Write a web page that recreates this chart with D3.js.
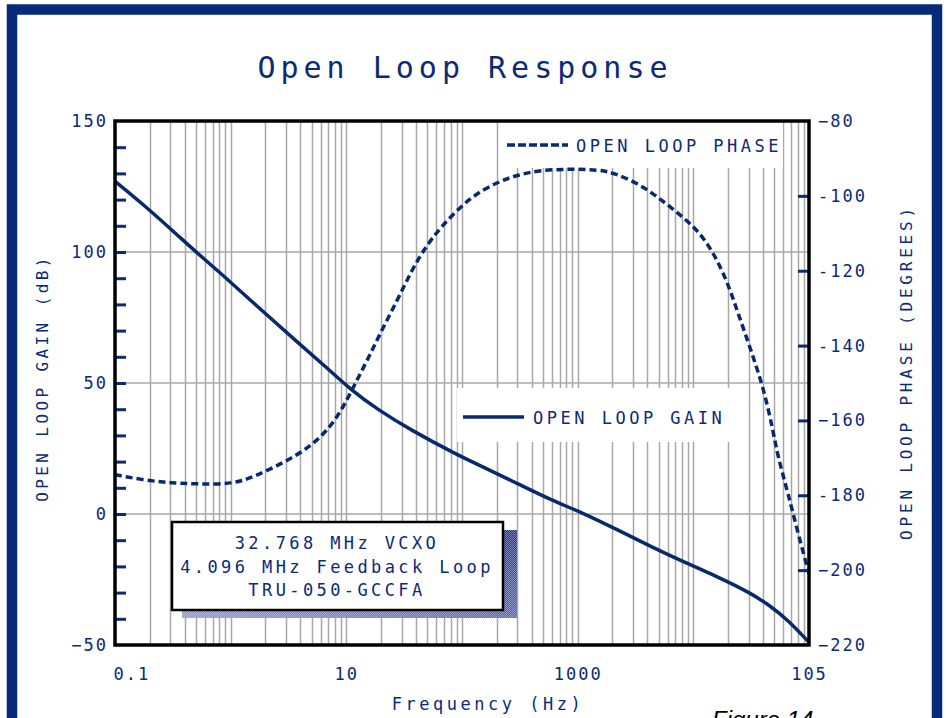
<!DOCTYPE html>
<html>
<head>
<meta charset="utf-8">
<script src="https://cdn.jsdelivr.net/npm/d3@7"></script>
<style>
  body { margin: 0; background: #fff; }
  svg { display: block; }
  text { font-family: "DejaVu Sans Mono", monospace; fill: #0b2a78; }
</style>
</head>
<body>
<div id="chart"></div>
<script>
// donnees
var gainFreq = [0.1, 0.175, 0.344, 0.513, 0.93, 1.91, 3.77, 6.84, 10.8, 18.5, 35.8, 91.5, 153, 303, 583, 1128, 2220, 4290, 8270, 16300, 31500, 46900, 65800, 100000];
var gainDb = [127, 118.2, 106.6, 99.6, 89.8, 77.2, 65.6, 55.7, 47.6, 40, 32.1, 22.5, 17.9, 11.6, 5.4, 0.3, -6.1, -12.4, -18.3, -24, -30.2, -35.3, -40.5, -49];

var phaseFreq = [0.1, 0.175, 0.3, 0.51, 1.05, 1.57, 2.85, 4.87, 7.27, 9.42, 11.5, 15.2, 19.7, 27.7, 35.8, 46.4, 65.2, 118.6, 203, 303, 478, 923, 1580, 2050, 3305, 4930, 7350, 10940, 15040, 19900, 24300, 31500, 40800, 48800, 53900, 65800, 80300, 100000];
var phaseDeg = [-174.5, -175.9, -176.7, -177, -177, -175.1, -171.4, -167.1, -161.8, -156.4, -151.1, -143.9, -136.6, -127.8, -120.6, -114.5, -108.3, -100.2, -96.3, -94.4, -93.1, -92.8, -93.1, -93.9, -96.6, -100.3, -104.6, -109.1, -115.3, -123.3, -131.3, -141.2, -151.8, -162.6, -169.8, -179.4, -190.1, -201];

var freqTicks = [0.1, 10, 1000, 100000];
var freqTickLabels = ["0.1", "10", "1000", "105"];
var gainTicks = [150, 100, 50, 0, -50];
var gainTickLabels = ["150", "100", "50", "0", "\u221250"];
var phaseTicks = [-80, -100, -120, -140, -160, -180, -200, -220];
var phaseTickLabels = ["\u221280", "-100", "-120", "-140", "\u2212160", "-180", "\u2212200", "\u2212220"];
var noteLines = ["32.768 MHz VCXO", "4.096 MHz Feedback Loop", "TRU-050-GCCFA"];

// dimensions
var width = 946;
var height = 718;
var plotLeft = 115, plotRight = 809, plotTop = 121, plotBottom = 645;
var navy = "#0b2a78";
var lineColor = "#082a6c";

var svg = d3.select("#chart").append("svg")
  .attr("width", width)
  .attr("height", height);

// motif pour l'ombre du cadre de texte
var defs = svg.append("defs");
var grad = defs.append("linearGradient").attr("id", "shadeGrad")
  .attr("x1", "0").attr("y1", "1").attr("x2", "1").attr("y2", "0");
grad.append("stop").attr("offset", "0").attr("stop-color", "#8e98d0");
grad.append("stop").attr("offset", "1").attr("stop-color", "#23358a");
var pat = defs.append("pattern").attr("id", "dither")
  .attr("width", 2).attr("height", 2).attr("patternUnits", "userSpaceOnUse");
pat.append("rect").attr("width", 1).attr("height", 1).attr("fill", "#ffffff").attr("opacity", 0.35);
pat.append("rect").attr("x", 1).attr("y", 1).attr("width", 1).attr("height", 1).attr("fill", "#ffffff").attr("opacity", 0.35);

// echelles
var x = d3.scaleLog().domain([0.1, 100000]).range([plotLeft, plotRight]);
var yGain = d3.scaleLinear().domain([-50, 150]).range([plotBottom, plotTop]);
var yPhase = d3.scaleLinear().domain([-220, -80]).range([plotBottom, plotTop]);

// cadre bleu exterieur
svg.append("rect")
  .attr("x", 12).attr("y", 9.5)
  .attr("width", 925).attr("height", 760)
  .attr("fill", "none")
  .attr("stroke", "#062a78")
  .attr("stroke-width", 10.5);

// titre
svg.append("text")
  .attr("x", 465).attr("y", 78)
  .attr("text-anchor", "middle")
  .style("font-size", "30px")
  .style("letter-spacing", "5px")
  .text("Open Loop Response");

// grille verticale (log)
var grid = svg.append("g").attr("stroke", "#a8a8a8").attr("stroke-width", 1.5);
grid.selectAll(".vgrid")
  .data(x.ticks().filter(function (d) { return d > 0.1 && d < 100000; }))
  .enter().append("line")
  .attr("class", "vgrid")
  .attr("x1", function (d) { return Math.round(x(d)) + 0.5; })
  .attr("x2", function (d) { return Math.round(x(d)) + 0.5; })
  .attr("y1", plotTop).attr("y2", plotBottom);

// grille horizontale
grid.selectAll(".hgrid")
  .data([100, 50, 0])
  .enter().append("line")
  .attr("class", "hgrid")
  .attr("x1", plotLeft).attr("x2", plotRight)
  .attr("y1", function (d) { return yGain(d); })
  .attr("y2", function (d) { return yGain(d); });

// fonds blancs des legendes
svg.append("rect").attr("x", 503).attr("y", plotTop).attr("width", 280).attr("height", 47).attr("fill", "#fff");
svg.append("rect").attr("x", 457).attr("y", 388).attr("width", 279).attr("height", 54).attr("fill", "#fff");

// cadre de texte avec ombre
svg.append("rect").attr("x", 182).attr("y", 530).attr("width", 335).attr("height", 88).attr("fill", "url(#shadeGrad)");
svg.append("rect").attr("x", 182).attr("y", 530).attr("width", 335).attr("height", 88).attr("fill", "url(#dither)");
svg.append("rect").attr("x", 172).attr("y", 522).attr("width", 331).attr("height", 88)
  .attr("fill", "#fff").attr("stroke", "#000").attr("stroke-width", 2.5);
svg.selectAll(".note")
  .data(noteLines)
  .enter().append("text")
  .attr("class", "note")
  .attr("x", 337)
  .attr("y", function (d, i) { return 549 + i * 23.5; })
  .attr("text-anchor", "middle")
  .style("font-size", "17px")
  .style("letter-spacing", "3.4px")
  .text(function (d) { return d; });

// courbes (lissees)
var lineGain = d3.line()
  .x(function (d) { return x(d[0]); })
  .y(function (d) { return yGain(d[1]); })
  .curve(d3.curveBasis);
var linePhase = d3.line()
  .x(function (d) { return x(d[0]); })
  .y(function (d) { return yPhase(d[1]); })
  .curve(d3.curveBasis);

var plot = svg.append("g");
plot.append("path")
  .datum(d3.zip(phaseFreq, phaseDeg))
  .attr("d", linePhase)
  .attr("fill", "none")
  .attr("stroke", lineColor)
  .attr("stroke-width", 3.5)
  .attr("stroke-dasharray", "7,4");
plot.append("path")
  .datum(d3.zip(gainFreq, gainDb))
  .attr("d", lineGain)
  .attr("fill", "none")
  .attr("stroke", lineColor)
  .attr("stroke-width", 3.5);

// legendes
svg.append("line").attr("x1", 507).attr("x2", 568).attr("y1", 145).attr("y2", 145)
  .attr("stroke", lineColor).attr("stroke-width", 3.5).attr("stroke-dasharray", "8,3");
svg.append("text").attr("x", 576).attr("y", 152)
  .style("font-size", "17px").style("letter-spacing", "3.5px")
  .text("OPEN LOOP PHASE");
svg.append("line").attr("x1", 463).attr("x2", 524).attr("y1", 417).attr("y2", 417)
  .attr("stroke", lineColor).attr("stroke-width", 3.5);
svg.append("text").attr("x", 533).attr("y", 424)
  .style("font-size", "17px").style("letter-spacing", "3.5px")
  .text("OPEN LOOP GAIN");

// petites graduations interieures
svg.append("g")
  .attr("transform", "translate(" + plotLeft + ",0)")
  .call(d3.axisRight(yGain).tickValues(d3.range(-40, 150, 10)).tickSize(11).tickFormat(""))
  .call(function (g) {
    g.select(".domain").remove();
    g.selectAll(".tick line").attr("stroke", navy).attr("stroke-width", 3);
  });
svg.append("g")
  .attr("transform", "translate(" + plotRight + ",0)")
  .call(d3.axisLeft(yPhase).tickValues(d3.range(-100, -201, -20)).tickSize(11).tickFormat(""))
  .call(function (g) {
    g.select(".domain").remove();
    g.selectAll(".tick line").attr("stroke", navy).attr("stroke-width", 3);
  });

// cadre du graphique
svg.append("rect")
  .attr("x", plotLeft).attr("y", plotTop)
  .attr("width", plotRight - plotLeft).attr("height", plotBottom - plotTop)
  .attr("fill", "none").attr("stroke", "#000").attr("stroke-width", 3.5);

// etiquettes des axes
var axisLeftG = svg.append("g")
  .attr("transform", "translate(" + (plotLeft - 4) + ",0)")
  .call(d3.axisLeft(yGain).tickValues(gainTicks).tickSize(0)
    .tickFormat(function (d, i) { return gainTickLabels[i]; }));
var axisRightG = svg.append("g")
  .attr("transform", "translate(" + (plotRight + 6) + ",0)")
  .call(d3.axisRight(yPhase).tickValues(phaseTicks).tickSize(0)
    .tickFormat(function (d, i) { return phaseTickLabels[i]; }));
var axisBottomG = svg.append("g")
  .attr("transform", "translate(0," + (plotBottom + 20) + ")")
  .call(d3.axisBottom(x).tickValues(freqTicks).tickSize(0)
    .tickFormat(function (d, i) { return freqTickLabels[i]; }));

[axisLeftG, axisRightG, axisBottomG].forEach(function (g) {
  g.select(".domain").remove();
  g.selectAll("text")
    .attr("fill", navy)
    .style("font-family", "'DejaVu Sans Mono', monospace")
    .style("font-size", "17px")
    .style("letter-spacing", "2px");
});
axisBottomG.selectAll("text").filter(function (d) { return d === 0.1; })
  .attr("text-anchor", "start").attr("dx", "-2");

// titres des axes
svg.append("text")
  .attr("transform", "translate(48,378) rotate(-90)")
  .attr("text-anchor", "middle")
  .style("font-size", "16px").style("letter-spacing", "3.4px")
  .text("OPEN LOOP GAIN (dB)");
svg.append("text")
  .attr("transform", "translate(912,372) rotate(-90)")
  .attr("text-anchor", "middle")
  .style("font-size", "16px").style("letter-spacing", "3.8px")
  .text("OPEN LOOP PHASE (DEGREES)");
svg.append("text")
  .attr("x", 488).attr("y", 710)
  .attr("text-anchor", "middle")
  .style("font-size", "17px").style("letter-spacing", "3.5px")
  .text("Frequency (Hz)");

// legende de figure coupee en bas
svg.append("text")
  .attr("x", 712).attr("y", 728)
  .style("font-family", "'Liberation Sans', sans-serif")
  .style("font-style", "italic")
  .style("font-size", "24px")
  .style("fill", "#000")
  .text("Figure 14");
</script>
</body>
</html>
